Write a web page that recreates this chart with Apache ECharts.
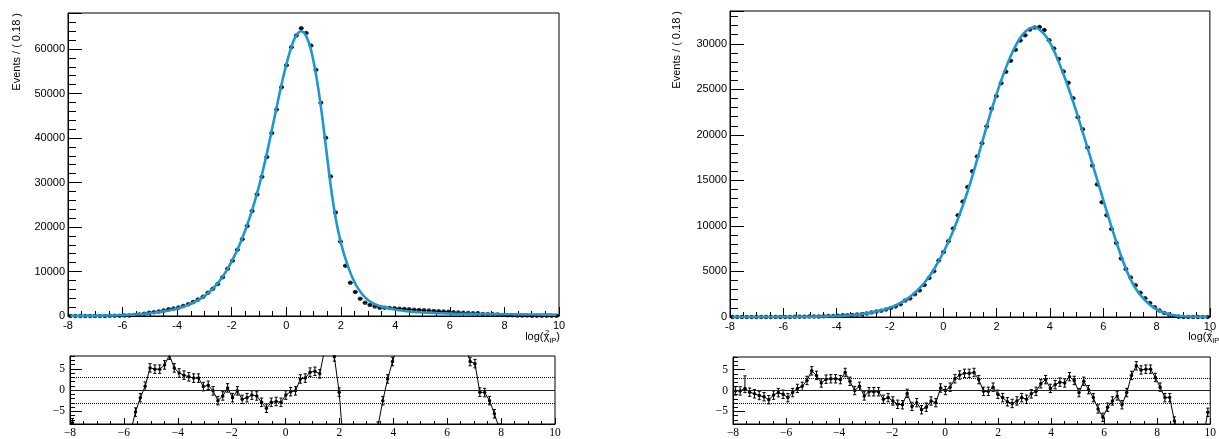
<!DOCTYPE html>
<html>
<head>
<meta charset="utf-8">
<script src="https://cdn.jsdelivr.net/npm/echarts@6/dist/echarts.min.js"></script>
<style>
html,body{margin:0;padding:0;background:#fff;}
#c{width:1219px;height:439px;}
</style>
</head>
<body>
<div id="c"></div>
<script>
// ---- data (bin centres of 100 bins of width 0.18 from -8 to 10) ----
const binCenters = [-7.91,-7.73,-7.55,-7.37,-7.19,-7.01,-6.83,-6.65,-6.47,-6.29,-6.11,-5.93,-5.75,-5.57,-5.39,-5.21,-5.03,-4.85,-4.67,-4.49,-4.31,-4.13,-3.95,-3.77,-3.59,-3.41,-3.23,-3.05,-2.87,-2.69,-2.51,-2.33,-2.15,-1.97,-1.79,-1.61,-1.43,-1.25,-1.07,-0.89,-0.71,-0.53,-0.35,-0.17,0.01,0.19,0.37,0.55,0.73,0.91,1.09,1.27,1.45,1.63,1.81,1.99,2.17,2.35,2.53,2.71,2.89,3.07,3.25,3.43,3.61,3.79,3.97,4.15,4.33,4.51,4.69,4.87,5.05,5.23,5.41,5.59,5.77,5.95,6.13,6.31,6.49,6.67,6.85,7.03,7.21,7.39,7.57,7.75,7.93,8.11,8.29,8.47,8.65,8.83,9.01,9.19,9.37,9.55,9.73,9.91];

const xTicks = [-8,-6,-4,-2,0,2,4,6,8,10];
const pullTicks = [-5,0,5];

// left panel: data, fit curve, pulls
const leftData = [12,5,6,8,10,12,15,20,30,40,60,90,140,218,359,510,727,862,1025,1230,1520,1659,1907,2240,2655,3133,3727,4312,5199,6134,7165,8718,10631,12398,14896,17259,20222,23615,27318,31283,35729,41108,46415,51439,56364,60402,63050,64658,63602,60777,55325,47925,40061,31352,23260,16735,11300,7500,5400,3900,2980,2500,2150,1847,1830,1787,1716,1650,1580,1500,1430,1360,1290,1220,1150,1080,1010,940,870,800,740,700,620,590,430,420,370,315,250,190,150,120,100,85,70,60,50,45,40,35];
const leftFit = [39,45,50,58,66,76,88,100,118,140,168,205,256,310,395,490,600,730,880,1040,1230,1460,1740,2080,2500,2980,3560,4260,5120,6150,7380,8850,10580,12600,14920,17550,20480,23800,27550,31800,36550,41700,47000,52100,56650,60500,63100,64000,62900,59750,54300,47100,38300,29300,22100,16800,12900,9750,7300,5500,4180,3250,2650,2250,1940,1680,1460,1280,1130,1010,910,830,770,720,670,630,590,560,530,510,490,475,460,450,440,432,424,415,400,390,380,370,360,350,340,330,320,310,300,290];
const leftPull = [-7.7,-12,-14,-15,-16,-17,-18,-18,-17,-16,-15,-13,-9.8,-5.2,-1.8,0.9,5.2,4.9,4.9,5.9,8.2,5.2,4.0,3.5,3.1,2.8,2.8,0.8,1.1,-0.2,-2.5,-1.4,0.5,-1.8,-0.2,-2.2,-1.8,-1.2,-1.4,-2.9,-4.3,-2.9,-2.7,-2.9,-1.2,-0.4,-0.2,2.6,2.8,4.2,4.4,3.8,9.5,12,7.8,-0.5,-15,-25,-26,-25,-22,-14,-9.7,-8.5,-2.5,2.6,6.7,10.3,13,14,15,16,17,17,17,16,16,15,14,12,11,10.5,6.7,6.2,-0.5,-0.6,-2.5,-5.6,-9,-12,-14,-15,-15,-15,-15,-15,-15,-15,-15,-15];

// right panel: data, fit curve, pulls
const rightData = [1,1,2,2,1,1,1,1,4,7,7,6,12,20,27,39,60,64,63,83,100,121,143,193,204,215,281,302,394,483,593,673,830,978,1162,1407,1820,2041,2510,2911,3515,4274,5030,6197,7140,8313,9722,11164,12673,14261,16015,17622,19082,20931,22871,24259,25676,26933,28135,29339,30362,30928,31558,31784,31844,31508,30387,29489,28335,26944,25724,24019,21926,20613,18607,16629,14559,12610,11170,9650,8130,6420,5260,4330,3480,2660,2050,1540,1080,710,435,280,98,15,5,3,2,2,1,2];
const rightFit = [1.2,1.5,1.8,2.2,2.7,3.3,4,5,6.5,8,10,12,14,18,22,27,33,41,50,62,76,94,115,142,175,215,265,325,400,490,600,730,880,1060,1280,1540,1850,2220,2660,3170,3760,4440,5240,6150,7140,8240,9450,10780,12220,13780,15480,17280,19110,20960,22750,24400,25950,27380,28660,29770,30660,31300,31700,31820,31560,31050,30300,29250,28000,26650,25200,23650,22000,20300,18580,16850,15100,13350,11600,9900,8250,6700,5300,4100,3150,2420,1830,1350,980,690,470,310,200,125,80,50,32,20,13,9];
const rightPull = [-0.1,-0.1,0.5,-0.4,-0.8,-1.2,-1.5,-2.2,-1.1,-0.5,-0.9,-1.7,-0.5,0.5,1.0,2.4,4.7,3.6,1.8,2.7,2.8,2.8,2.6,4.3,2.2,0,1.0,-1.3,-0.3,-0.3,-0.3,-2.1,-1.7,-2.5,-3.3,-3.4,-0.7,-3.8,-2.9,-4.6,-4.0,-2.5,-2.9,0.6,0,0.8,2.8,3.7,4.1,4.1,4.3,2.6,-0.2,-0.2,0.8,-0.9,-1.7,-2.7,-3.1,-2.5,-1.7,-2.1,-0.8,-0.2,1.6,2.6,0.5,1.4,2.0,1.8,3.3,2.4,-0.5,2.2,0.2,-1.7,-4.4,-6.4,-4.0,-2.5,-1.3,-3.4,-0.5,3.6,5.9,4.9,5.1,5.1,3.1,0.8,-1.7,-1.7,-7.3,-10,-12,-12,-12,-12,-11.3,-5.2];
const rightPullErrUp = {2: 3.0};

// ---- styling ----
const SANS = 'Liberation Sans';
const SERIF = 'Liberation Serif';
const FIT_COLOR = '#1b98cf';

function pts(xs, ys){ return xs.map((x,i)=>[x, ys[i]]); }

function mainErrRender(params, api){
  const x = api.value(0), y = api.value(1);
  const e = Math.sqrt(Math.max(y,0));
  const a = api.coord([x-0.09, y]), b = api.coord([x+0.09, y]);
  const c = api.coord([x, y-e]), d = api.coord([x, y+e]);
  return {type:'group', children:[
    {type:'line', shape:{x1:a[0],y1:a[1],x2:b[0],y2:b[1]}, style:{stroke:'#000', lineWidth:1.3}},
    {type:'line', shape:{x1:c[0],y1:c[1],x2:d[0],y2:d[1]}, style:{stroke:'#000', lineWidth:1.3}}
  ]};
}
function pullErrRender(upMap){
  return function(params, api){
    const x = api.value(0), y = api.value(1);
    const up = (upMap && upMap[params.dataIndex]) || 1;
    const lo = api.coord([x, y-1]), hi = api.coord([x, y+up]);
    const w = 1.6;
    return {type:'group', children:[
      {type:'line', shape:{x1:lo[0],y1:lo[1],x2:hi[0],y2:hi[1]}, style:{stroke:'#000', lineWidth:1}},
      {type:'line', shape:{x1:lo[0]-w,y1:lo[1],x2:lo[0]+w,y2:lo[1]}, style:{stroke:'#000', lineWidth:1}},
      {type:'line', shape:{x1:hi[0]-w,y1:hi[1],x2:hi[0]+w,y2:hi[1]}, style:{stroke:'#000', lineWidth:1}}
    ]};
  };
}

function mainX(gi){
  return {gridIndex:gi, type:'value', min:-8, max:10, interval:2,
    axisLine:{show:true, onZero:false, lineStyle:{color:'#000', width:1}},
    axisTick:{show:true, inside:true, length:9, lineStyle:{color:'#000'}},
    minorTick:{show:true, splitNumber:4, length:5, lineStyle:{color:'#000'}},
    axisLabel:{fontFamily:SANS, fontSize:11, color:'#000', margin:4, formatter: v => String(v)},
    splitLine:{show:false}};
}
function mainY(gi, max, interval){
  return {gridIndex:gi, type:'value', min:0, max:max, interval:interval,
    axisLine:{show:true, onZero:false, lineStyle:{color:'#000', width:1}},
    axisTick:{show:true, inside:true, length:14, lineStyle:{color:'#000'}},
    minorTick:{show:true, splitNumber:5, length:8, lineStyle:{color:'#000'}},
    axisLabel:{fontFamily:SANS, fontSize:11, color:'#000', margin:3, showMaxLabel:false, formatter: v => String(v)},
    splitLine:{show:false}};
}
function pullX(gi){
  return {gridIndex:gi, type:'value', min:-8, max:10, interval:2,
    axisLine:{show:true, onZero:false, lineStyle:{color:'#000', width:1}},
    axisTick:{show:true, inside:true, length:6, lineStyle:{color:'#000'}},
    minorTick:{show:true, splitNumber:4, length:3, lineStyle:{color:'#000'}},
    axisLabel:{fontFamily:SERIF, fontSize:11.5, color:'#000', margin:3,
      formatter: v => String(v).replace('-', '\u2212')},
    splitLine:{show:false}};
}
function pullYMinor(gi){
  return {gridIndex:gi, type:'value', min:-8, max:8, interval:1,
    axisLine:{show:true, onZero:false, lineStyle:{color:'#000', width:1}},
    axisTick:{show:true, inside:true, length:5, lineStyle:{color:'#000'}},
    axisLabel:{show:false}, splitLine:{show:false}};
}
function pullYMajor(gi){
  return {gridIndex:gi, type:'value', min:-8, max:8, position:'left',
    axisLine:{show:false, onZero:false},
    axisTick:{show:true, inside:true, length:12, customValues:pullTicks, lineStyle:{color:'#000'}},
    axisLabel:{show:true, customValues:pullTicks, fontFamily:SERIF, fontSize:11.5, color:'#000', margin:5,
      formatter: v => String(v).replace('-', '\u2212')},
    splitLine:{show:false}};
}

function pullSeries(xi, yi, data){
  return {type:'line', xAxisIndex:xi, yAxisIndex:yi, data:data, clip:true,
    symbol:'circle', symbolSize:3.5, showSymbol:true,
    itemStyle:{color:'#000'}, lineStyle:{color:'#000', width:1}, z:4,
    markLine:{silent:true, symbol:['none','none'], label:{show:false}, animation:false,
      data:[
        {yAxis:0, lineStyle:{type:'solid', color:'#222', width:1.2}},
        {yAxis:3, lineStyle:{type:'dotted', color:'#000', width:1}},
        {yAxis:-3, lineStyle:{type:'dotted', color:'#000', width:1}}
      ]}};
}

const chart = echarts.init(document.getElementById('c'), null, {renderer:'canvas'});
const option = {
  animation:false,
  backgroundColor:'#fff',
  grid:[
    {left:68, top:13, width:491, height:303, show:true, borderColor:'#000', borderWidth:1, containLabel:false},
    {left:730, top:11, width:489, height:306, show:true, borderColor:'#000', borderWidth:1, containLabel:false},
    {left:70, top:356, width:485, height:70, show:true, borderColor:'#000', borderWidth:1, containLabel:false},
    {left:733, top:357, width:483, height:70, show:true, borderColor:'#000', borderWidth:1, containLabel:false}
  ],
  xAxis:[mainX(0), mainX(1), pullX(2), pullX(3)],
  yAxis:[mainY(0, 68100, 10000), mainY(1, 33600, 5000),
         pullYMinor(2), pullYMajor(2), pullYMinor(3), pullYMajor(3)],
  series:[
    {type:'custom', xAxisIndex:0, yAxisIndex:0, data:pts(binCenters, leftData), renderItem:mainErrRender, clip:true, z:2},
    {type:'scatter', xAxisIndex:0, yAxisIndex:0, data:pts(binCenters, leftData), symbol:'circle', symbolSize:4.5, itemStyle:{color:'#000'}, z:3},
    {type:'line', xAxisIndex:0, yAxisIndex:0, data:pts(binCenters, leftFit), smooth:0.35, showSymbol:false, lineStyle:{color:FIT_COLOR, width:2.6}, z:5},

    {type:'custom', xAxisIndex:1, yAxisIndex:1, data:pts(binCenters, rightData), renderItem:mainErrRender, clip:true, z:2},
    {type:'scatter', xAxisIndex:1, yAxisIndex:1, data:pts(binCenters, rightData), symbol:'circle', symbolSize:4.5, itemStyle:{color:'#000'}, z:3},
    {type:'line', xAxisIndex:1, yAxisIndex:1, data:pts(binCenters, rightFit), smooth:0.35, showSymbol:false, lineStyle:{color:FIT_COLOR, width:2.6}, z:5},

    {type:'custom', xAxisIndex:2, yAxisIndex:2, data:pts(binCenters, leftPull), renderItem:pullErrRender(null), clip:true, z:3},
    pullSeries(2, 2, pts(binCenters, leftPull)),
    {type:'custom', xAxisIndex:3, yAxisIndex:4, data:pts(binCenters, rightPull), renderItem:pullErrRender(rightPullErrUp), clip:true, z:3},
    pullSeries(3, 4, pts(binCenters, rightPull))
  ],
  graphic:[
    {type:'text', x:16.5, y:13, rotation:Math.PI/2,
     style:{text:'Events / ( 0.18 )', fontFamily:SANS, fontSize:11, fill:'#000', align:'right', verticalAlign:'middle'}},
    {type:'text', x:676.5, y:11, rotation:Math.PI/2,
     style:{text:'Events / ( 0.18 )', fontFamily:SANS, fontSize:11, fill:'#000', align:'right', verticalAlign:'middle'}},
    {type:'text', x:560, y:337,
     style:{text:'log(\u03C7{s|2}{i|IP})', fontFamily:SANS, fontSize:11, fill:'#000', align:'right', verticalAlign:'middle',
       rich:{s:{fontFamily:SANS, fontSize:7.5, width:0, padding:[0,0,8,0]}, i:{fontFamily:SANS, fontSize:7.5, padding:[7,0,0,0]}}}},
    {type:'text', x:1223, y:337,
     style:{text:'log(\u03C7{s|2}{i|IP})', fontFamily:SANS, fontSize:11, fill:'#000', align:'right', verticalAlign:'middle',
       rich:{s:{fontFamily:SANS, fontSize:7.5, width:0, padding:[0,0,8,0]}, i:{fontFamily:SANS, fontSize:7.5, padding:[7,0,0,0]}}}}
  ]
};
chart.setOption(option);
</script>
</body>
</html>
